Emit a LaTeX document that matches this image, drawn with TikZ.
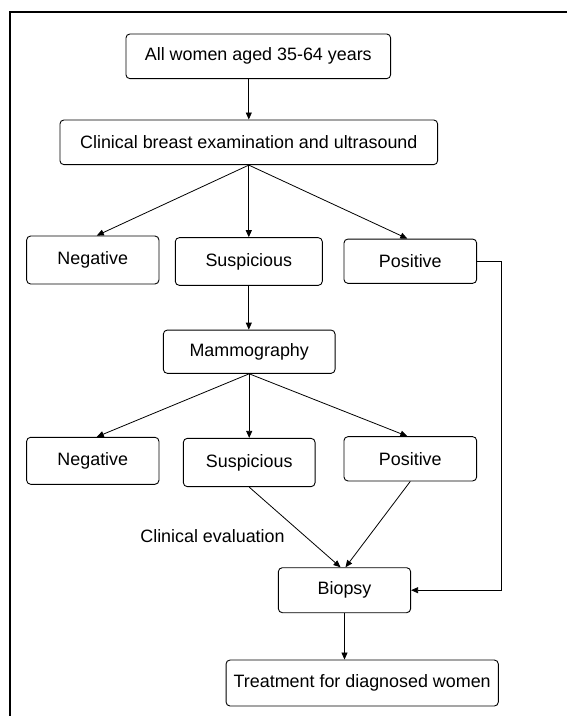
\documentclass[tikz,border=0pt]{standalone}
\usepackage{fontspec}
\setmainfont{Liberation Sans}
\usetikzlibrary{arrows.meta,calc}
\begin{document}
\begin{tikzpicture}[x=1pt,y=-1pt,
  every node/.style={font=\fontsize{17.9}{21}\selectfont},
  stepbox/.style={draw, line width=0.9pt, rounded corners=4pt, inner sep=0pt, align=center},
  arr/.style={draw, line width=0.8pt, -{Triangle[length=7pt,width=6pt]}},
  frame/.style={line width=2pt}]
\useasboundingbox (0,0) rectangle (566,716);
% open frame along the top and left
\draw[frame] (9.5,720) -- (9.5,11.7) -- (570,11.7);

\node[stepbox, minimum width=264.7pt, minimum height=44.7pt] (top) at (258.3,56.3) {All women aged 35-64 years};
\node[stepbox, minimum width=377.7pt, minimum height=44.7pt] (cbe) at (248.8,142.3) {Clinical breast examination and ultrasound};

\node[stepbox, minimum width=132.3pt, minimum height=48pt] (neg1) at (92.8,260) {Negative};
\node[stepbox, minimum width=147pt, minimum height=47.7pt] (sus1) at (248.8,261.5) {Suspicious};
\node[stepbox, minimum width=132.7pt, minimum height=44.3pt] (pos1) at (410.3,261.2) {Positive};

\node[stepbox, minimum width=171.7pt, minimum height=43.3pt] (mam) at (249.2,351.7) {Mammography};

\node[stepbox, minimum width=132.3pt, minimum height=47pt] (neg2) at (92.8,460.8) {Negative};
\node[stepbox, minimum width=131.7pt, minimum height=48.3pt] (sus2) at (249.2,462.5) {Suspicious};
\node[stepbox, minimum width=132.7pt, minimum height=44.3pt] (pos2) at (410.3,458.8) {Positive};

\node (clin) at (212.5,535.7) {Clinical evaluation};

\node[stepbox, minimum width=132.3pt, minimum height=45pt] (bio) at (344.5,590.2) {Biopsy};
\node[stepbox, minimum width=272.3pt, minimum height=46pt] (treat) at (362.2,683) {Treatment for diagnosed women};

% connectors
\draw[arr] (top.south -| cbe.north) -- (cbe.north);
\draw[arr] (cbe.south) -- ([xshift=4pt]neg1.north);
\draw[arr] (cbe.south) -- (sus1.north);
\draw[arr] (cbe.south) -- ([xshift=-3pt]pos1.north);
\draw[arr] (sus1.south) -- (sus1.south |- mam.north);
\draw[arr] (mam.south) -- ([xshift=4pt]neg2.north);
\draw[arr] (mam.south) -- (sus2.north);
\draw[arr] (mam.south) -- ([xshift=-3pt]pos2.north);
\draw[arr] (sus2.south) -- ([xshift=-4pt]bio.north);
\draw[arr] (pos2.south) -- ([xshift=1pt]bio.north);
\draw[arr] (pos1.east) -- ++(24,0) |- (bio.east);
\draw[arr] (bio.south) -- (bio.south |- treat.north);
\end{tikzpicture}
\end{document}
